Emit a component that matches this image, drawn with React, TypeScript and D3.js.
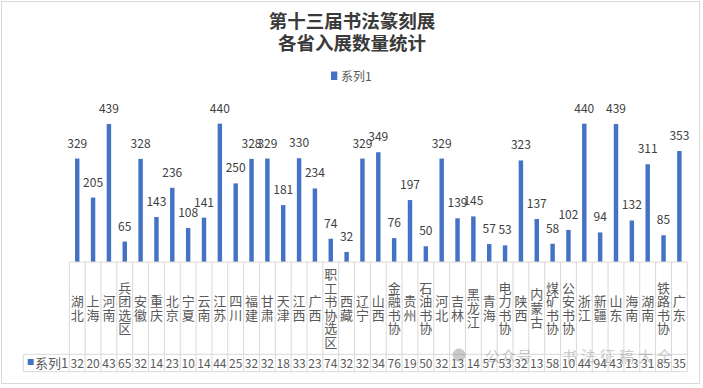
import * as d3 from "d3";

// categories (provinces / associations) and entry counts
const categories = [
  "湖北", "上海", "河南", "兵团选区", "安徽", "重庆", "北京", "宁夏", "云南", "江苏",
  "四川", "福建", "甘肃", "天津", "江西", "广西", "职工书协选区", "西藏", "辽宁", "山西",
  "金融书协", "贵州", "石油书协", "河北", "吉林", "黑龙江", "青海", "电力书协", "陕西", "内蒙古",
  "煤矿书协", "公安书协", "浙江", "新疆", "山东", "海南", "湖南", "铁路书协", "广东",
];
const values = [
  329, 205, 439, 65, 328, 143, 236, 108, 141, 440,
  250, 328, 329, 181, 330, 234, 74, 32, 329, 349,
  76, 197, 50, 329, 139, 145, 57, 53, 323, 137,
  58, 102, 440, 94, 439, 132, 311, 85, 353,
];
const seriesName = "系列1";
const titleLines = ["第十三届书法篆刻展", "各省入展数量统计"];

const W = 703;
const H = 388;
const FONT = "'Noto Sans CJK SC', 'Microsoft YaHei', sans-serif";
const BLUE = "#4472C4";
const GRID = "#D9D9D9";
const TEXT = "#595959";

export default function App() {
  const plot = { left: 69.3, right: 687.3, top: 104.8, bottom: 262 };
  const tableMid = 354.3;
  const tableBottom = 371.7;
  const tableLeft = 23.3;

  const x = d3.scaleBand().domain(categories).range([plot.left, plot.right]).padding(0);
  const y = d3.scaleLinear().domain([0, 500]).range([plot.bottom, plot.top]);
  const step = x.bandwidth();
  const barW = step * 0.28;

  const data = categories.map((c, i) => ({ c, v: values[i] }));

  return (
    <svg
      width={W}
      height={H}
      style={{ position: "absolute", left: 0, top: 0, background: "#fff" }}
      fontFamily={FONT}
    >
      <rect x={1.5} y={1.5} width={698} height={382} fill="#fff" stroke={GRID} />

      {/* title */}
      <g fill="#3a3a3a" fontWeight={700} fontSize={18.5} textAnchor="middle">
        {titleLines.map((t, i) => (
          <text key={t} x={352} y={28 + i * 22}>{t}</text>
        ))}
      </g>

      {/* legend */}
      <rect x={331} y={71.5} width={6.3} height={8.5} fill={BLUE} />
      <text x={341} y={80.5} fontSize={12} fill={TEXT}>{seriesName}</text>

      {/* bars */}
      <g>
        {data.map((d) => (
          <rect
            key={d.c}
            x={x(d.c)! + (step - barW) / 2}
            y={y(d.v)}
            width={barW}
            height={y(0) - y(d.v)}
            fill={BLUE}
          />
        ))}
      </g>

      {/* data labels */}
      <g fontSize={12} fill="#404040" textAnchor="middle">
        {data.map((d) => (
          <text key={d.c} x={x(d.c)! + step / 2} y={y(d.v) - 11}>{d.v}</text>
        ))}
      </g>

      {/* data table grid */}
      <g stroke={GRID} strokeWidth={1} fill="none">
        <line x1={plot.left} x2={plot.right} y1={plot.bottom} y2={plot.bottom} />
        <line x1={tableLeft} x2={plot.right} y1={tableMid} y2={tableMid} />
        <line x1={tableLeft} x2={plot.right} y1={tableBottom} y2={tableBottom} />
        <line x1={tableLeft} x2={tableLeft} y1={tableMid} y2={tableBottom} />
        {[...categories.map((c) => x(c)!), plot.right].map((px, i) => (
          <line key={i} x1={px} x2={px} y1={plot.bottom} y2={tableBottom} />
        ))}
      </g>

      {/* vertical category labels */}
      <g fontSize={13} fill={TEXT} textAnchor="middle">
        {categories.map((c) => {
          const chars = Array.from(c);
          const lh = 13.6;
          const cy = (plot.bottom + tableMid) / 2;
          const y0 = cy - (chars.length * lh) / 2;
          return (
            <text key={c}>
              {chars.map((ch, k) => (
                <tspan key={k} x={x(c)! + step / 2} y={y0 + (k + 1) * lh - 2}>{ch}</tspan>
              ))}
            </text>
          );
        })}
      </g>

      {/* table value row */}
      <rect x={27.7} y={359} width={6} height={6} fill={BLUE} />
      <text x={35} y={367.5} fontSize={13} fill={TEXT}>{seriesName}</text>
      <g fontSize={12} fill={TEXT} textAnchor="middle">
        {data.map((d) => (
          <text key={d.c} x={x(d.c)! + step / 2} y={367.5}>{String(d.v).slice(0, 2)}</text>
        ))}
      </g>

      {/* watermark */}
      <g fill="#8c8c8c" opacity={0.45} fontSize={15}>
        <circle cx={459} cy={355} r={6.5} />
        <text x={485} y={362} letterSpacing={1}>公众号</text>
        <text x={562} y={362} letterSpacing={4}>书法征稿大全</text>
      </g>
    </svg>
  );
}
